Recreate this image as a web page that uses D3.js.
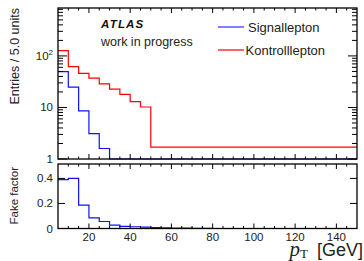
<!DOCTYPE html>
<html><head><meta charset="utf-8">
<script src="https://cdn.jsdelivr.net/npm/d3@7"></script>
<style>body{margin:0;background:#fff}svg{display:block}text{font-family:"Liberation Sans",Arial,sans-serif}</style>
</head><body><div id="c"></div>
<script>
const binEdges = [5,10,15,20,25,30,35,40,45,50,55,60,65,70,75,80,85,90,95,100,105,110,115,120,125,130,135,140,145,150];
const signalValues  = [49.6,24.7,8.6,3.1,1.6,0.6,0.3,0.2,0.1,0.05,0.05,0.03,0.02,0.01,0,0,0,0,0,0,0,0,0,0,0,0,0,0,0];
const controlValues = [127,62,46,37,28.6,22.6,18,13,10.2,1.7,1.7,1.7,1.7,1.7,1.7,1.7,1.7,1.7,1.7,1.7,1.7,1.7,1.7,1.7,1.7,1.7,1.7,1.7,1.7];
const fakeValues    = [0.39,0.40,0.186,0.085,0.056,0.027,0.017,0.014,0.011,0.008,0.006,0.004,0.003,0.002,0.001,0,0,0,0,0,0,0,0,0,0,0,0,0,0];
const xTicks = [20,40,60,80,100,120,140];
const yTopTicks = [1,10,100];
const yBotTicks = [0,0.2,0.4];
const legendLabels = ["Signallepton","Kontrolllepton"];

const W=364,H=261;
const svg=d3.select("#c").append("svg").attr("width",W).attr("height",H);
const L=58,R=357,T1=8,B1=159,T2=164,B2=228.5;
const x=d3.scaleLinear().domain([5,150]).range([L,R]);
const yTop=d3.scaleLog().domain([1,850]).range([B1,T1]).clamp(true);
const yBot=d3.scaleLinear().domain([0,0.515]).range([B2,T2]).clamp(true);

function stepPts(vals){const p=vals.map((v,i)=>[binEdges[i],v]);p.push([binEdges[binEdges.length-1],vals[vals.length-1]]);return p;}
const lineTop=d3.line().x(d=>x(d[0])).y(d=>yTop(Math.max(d[1],1))).curve(d3.curveStepAfter);
const lineBot=d3.line().x(d=>x(d[0])).y(d=>yBot(d[1])).curve(d3.curveStepAfter);

svg.append("path").attr("d",lineTop(stepPts(controlValues))).attr("fill","none").attr("stroke","#ff0000").attr("stroke-width",1.2);
svg.append("path").attr("d",lineTop(stepPts(signalValues))).attr("fill","none").attr("stroke","#1010ff").attr("stroke-width",1.2);
svg.append("path").attr("d",lineBot(stepPts(fakeValues))).attr("fill","none").attr("stroke","#1010ff").attr("stroke-width",1.2);

function frame(t,b){svg.append("rect").attr("x",L).attr("y",t).attr("width",R-L).attr("height",b-t).attr("fill","none").attr("stroke","#000").attr("stroke-width",1.3);}
frame(T1,B1);frame(T2,B2);

const g=svg.append("g").attr("stroke","#000").attr("stroke-width",1);
const xminor=d3.range(10,150,5);
function xt(t,b,maj,min){
  xminor.forEach(v=>{const isMaj=xTicks.includes(v);const len=isMaj?maj:min;
    g.append("line").attr("x1",x(v)).attr("x2",x(v)).attr("y1",b).attr("y2",b-len);
    g.append("line").attr("x1",x(v)).attr("x2",x(v)).attr("y1",t).attr("y2",t+len);});
}
xt(T1,B1,5,2.5);xt(T2,B2,5,2.5);
const logMinor=[];[1,10,100].forEach(d=>{for(let k=2;k<=9;k++){const v=d*k;if(v<850)logMinor.push(v);}});
yTopTicks.forEach(v=>{g.append("line").attr("x1",L).attr("x2",L+9).attr("y1",yTop(v)).attr("y2",yTop(v));g.append("line").attr("x1",R).attr("x2",R-9).attr("y1",yTop(v)).attr("y2",yTop(v));});
logMinor.forEach(v=>{g.append("line").attr("x1",L).attr("x2",L+5).attr("y1",yTop(v)).attr("y2",yTop(v));g.append("line").attr("x1",R).attr("x2",R-5).attr("y1",yTop(v)).attr("y2",yTop(v));});
yBotTicks.forEach(v=>{g.append("line").attr("x1",L).attr("x2",L+7).attr("y1",yBot(v)).attr("y2",yBot(v));g.append("line").attr("x1",R).attr("x2",R-7).attr("y1",yBot(v)).attr("y2",yBot(v));});

const fs=11.5;
svg.selectAll(".xl").data(xTicks).enter().append("text").attr("x",d=>x(d)).attr("y",241).attr("text-anchor","middle").attr("font-size",fs).attr("fill","#222").text(d=>d);
svg.append("text").attr("x",53).attr("y",yTop(1)+4).attr("text-anchor","end").attr("font-size",fs).attr("fill","#222").text("1");
svg.append("text").attr("x",53).attr("y",yTop(10)+4).attr("text-anchor","end").attr("font-size",fs).attr("fill","#222").text("10");
const t100=svg.append("text").attr("x",53).attr("y",yTop(100)+4).attr("text-anchor","end").attr("font-size",fs).attr("fill","#222");
t100.append("tspan").text("10");t100.append("tspan").attr("dy",-5).attr("font-size",8).text("2");
svg.selectAll(".yl").data(yBotTicks).enter().append("text").attr("x",53).attr("y",d=>yBot(d)+4).attr("text-anchor","end").attr("font-size",fs).attr("fill","#222").text(d=>d===0?"0":d.toFixed(1));

svg.append("text").attr("transform","translate(19,8) rotate(-90)").attr("text-anchor","end").attr("font-size",12.5).attr("fill","#222").text("Entries / 5.0 units");
svg.append("text").attr("transform","translate(18,167) rotate(-90)").attr("text-anchor","end").attr("font-size",11.5).attr("fill","#222").text("Fake factor");
const xt2=svg.append("text").attr("x",363).attr("y",256).attr("text-anchor","end").attr("font-size",18).attr("fill","#222");
xt2.append("tspan").attr("font-family","Liberation Serif").attr("font-style","italic").attr("font-size",21).text("p");
xt2.append("tspan").attr("font-family","Liberation Serif").attr("font-size",13).attr("dy",2).text("T");
xt2.append("tspan").attr("dy",-2).attr("font-family","Liberation Sans").text("\u2002[GeV]");

svg.append("text").attr("x",101).attr("y",28).attr("font-size",11.5).attr("font-weight","bold").attr("font-style","italic").attr("letter-spacing",1.2).attr("fill","#111").text("ATLAS");
svg.append("text").attr("x",101).attr("y",46).attr("font-size",12.5).attr("font-family","DejaVu Sans").attr("fill","#222").text("work in progress");

const legColors=["#8080ff","#ff0000"],legW=[2,1.2],legY=[27,50];
legendLabels.forEach((lab,i)=>{
  svg.append("line").attr("x1",218).attr("x2",244).attr("y1",legY[i]).attr("y2",legY[i]).attr("stroke",legColors[i]).attr("stroke-width",legW[i]);
  svg.append("text").attr("x",i===0?248:245.5).attr("y",legY[i]+4.5).attr("font-size",13).attr("font-family","DejaVu Sans").attr("fill","#222").text(lab);
});
</script></body></html>
